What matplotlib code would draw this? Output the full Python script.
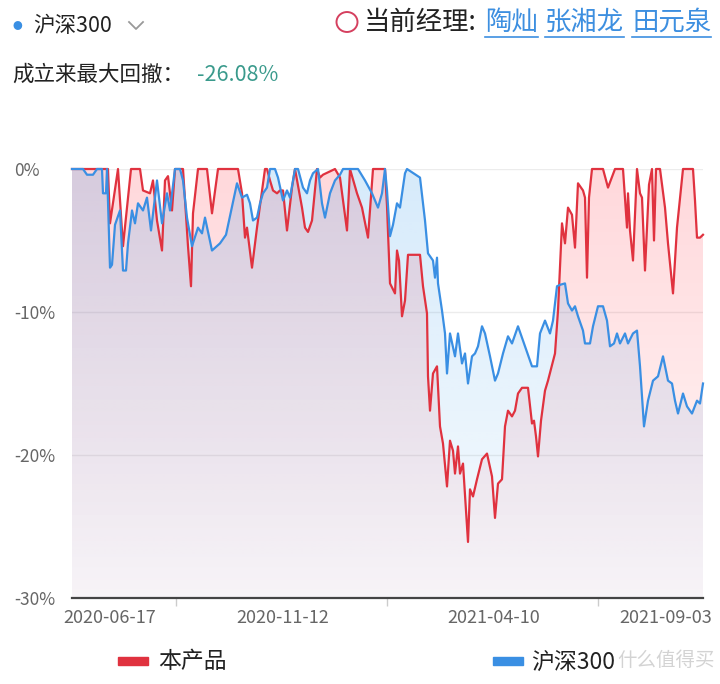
import matplotlib
matplotlib.use("Agg")
import matplotlib.pyplot as plt
import numpy as np
from matplotlib.patches import Polygon, Rectangle
from matplotlib.lines import Line2D

plt.rcParams["font.family"] = ["Noto Sans CJK SC", "DejaVu Sans"]

# ── Data: drawdown (%) at sample index (trading-day position) ────────────
fund_idx = [0, 36, 38, 46, 51, 59, 68, 71, 78, 81, 85, 90, 93, 96, 100, 103,
            111, 116, 119, 121, 126, 135, 140, 146, 153, 166, 170, 173, 175,
            180, 185, 193, 195, 198, 201, 205, 208, 211, 215, 220, 223, 230,
            233, 236, 240, 245, 248, 251, 263, 268, 275, 278, 285, 290, 296,
            301, 313, 315, 318, 323, 325, 327, 330, 333, 336, 348, 351, 355,
            356, 358, 361, 365, 368, 371, 375, 378, 381, 383, 386, 388, 391,
            396, 398, 401, 405, 410, 415, 420, 423, 426, 430, 433, 436, 440,
            443, 446, 450, 456, 460, 462, 464, 466, 469, 473, 476, 480, 483,
            486, 490, 493, 496, 500, 503, 506, 511, 513, 515, 517, 520, 531,
            536, 543, 551, 555, 556, 558, 561, 565, 568, 570, 573, 577, 580,
            582, 584, 588, 593, 596, 601, 605, 611, 621, 623, 625, 628, 631]
fund_dd = [0, 0, -3.8, 0, -5.4, 0, 0, -1.5, -1.7, -0.8, -3.6, -5.7, -0.8,
           -0.5, -2.9, 0, 0, -5.4, -8.2, -3.1, 0, 0, -3.1, 0, 0, 0, -1.7,
           -4.8, -4.1, -6.9, -4.1, 0, 0, -0.8, -1.5, -1.7, -1.5, -1.5, -4.3,
           -1.3, 0, -2.7, -4.1, -4.4, -3.6, 0, -0.6, -0.4, 0, -0.6, -4.3, 0,
           -1.7, -2.7, -4.8, 0, 0, -2.6, -8.0, -8.7, -5.7, -6.4, -10.3, -9.2,
           -6.0, -6.0, -8.2, -10.1, -14.5, -16.9, -14.3, -13.8, -18.0, -19.2,
           -22.2, -19.0, -19.7, -21.3, -19.4, -21.3, -20.6, -26.08, -22.4,
           -22.9, -21.7, -20.3, -19.9, -21.5, -24.4, -22.0, -21.7, -18.0,
           -16.9, -17.3, -16.9, -15.7, -15.3, -15.3, -17.8, -17.6, -18.7,
           -20.1, -17.6, -15.5, -14.8, -13.7, -12.9, -9.9, -3.8, -5.2, -2.7,
           -3.2, -5.5, -1.0, -1.5, -2.0, -7.6, -2.0, 0, 0, -1.3, 0, 0, -4.1,
           -1.7, -4.3, -6.4, 0, -1.7, -2.0, -7.1, -1.1, 0, -5.0, 0, 0, -2.7,
           -5.2, -8.7, -4.1, 0, 0, -2.2, -4.8, -4.8, -4.6]

hs300_idx = [0, 11, 15, 21, 25, 30, 31, 34, 35, 38, 40, 43, 48, 51, 54, 56,
             60, 63, 66, 71, 75, 79, 85, 90, 95, 98, 103, 108, 111, 115, 120,
             126, 130, 133, 140, 148, 154, 165, 170, 175, 178, 181, 185, 188,
             191, 195, 198, 203, 206, 211, 215, 218, 223, 226, 231, 235, 238,
             241, 246, 250, 253, 258, 263, 268, 271, 283, 286, 293, 300, 306,
             310, 313, 315, 318, 321, 325, 328, 333, 335, 348, 353, 356, 361,
             363, 365, 366, 370, 373, 375, 378, 383, 386, 390, 393, 396, 400,
             403, 406, 410, 413, 418, 423, 426, 431, 436, 440, 446, 453, 460,
             465, 468, 473, 478, 481, 485, 488, 493, 496, 500, 503, 506, 511,
             513, 518, 521, 526, 531, 535, 538, 542, 545, 548, 553, 556, 561,
             565, 568, 572, 576, 581, 586, 591, 596, 600, 603, 606, 611, 615,
             620, 625, 628, 631]
hs300_dd = [0, 0, -0.4, -0.4, 0, 0, -1.7, -1.7, 0, -6.9, -6.7, -3.9, -2.9,
            -7.1, -7.1, -5.2, -2.9, -3.8, -2.4, -2.9, -2.0, -4.3, -0.8, -3.8,
            -1.7, -2.9, 0, 0, -0.8, -3.4, -5.4, -4.1, -4.5, -3.4, -5.7, -5.2,
            -4.6, -1.0, -2.0, -1.8, -2.4, -3.6, -3.4, -2.4, -1.7, -1.3, 0, 0,
            -0.6, -2.2, -1.5, -2.0, 0, 0, -1.3, -1.7, -0.8, -0.3, 0, -2.4,
            -3.4, -1.7, -0.8, -0.4, 0, 0, 0, -0.8, -1.7, -2.7, -1.7, 0, -1.5,
            -4.7, -3.9, -2.4, -2.7, -0.3, 0, -0.6, -3.6, -5.9, -6.4, -7.6,
            -6.2, -8.0, -9.9, -11.5, -14.3, -11.5, -13.1, -11.5, -13.6, -12.9,
            -15.0, -13.1, -12.9, -12.4, -11.0, -11.5, -13.1, -14.8, -14.3,
            -12.9, -11.7, -12.2, -11.0, -12.4, -13.8, -13.8, -11.5, -10.6,
            -11.5, -10.6, -8.2, -8.1, -8.0, -9.4, -9.9, -9.6, -10.3, -11.3,
            -12.2, -12.2, -11.0, -9.6, -9.6, -10.6, -12.4, -12.2, -11.5,
            -12.2, -11.5, -12.2, -11.5, -11.3, -13.8, -18.0, -16.2, -14.8,
            -14.5, -13.1, -14.8, -15.0, -16.2, -17.1, -15.7, -16.6, -17.1,
            -16.2, -16.4, -15.0]

date_labels = ["2020-06-17", "2020-11-12", "2021-04-10", "2021-09-03"]
label_pos = [38, 211, 422, 594]
tick_pos = [104, 315, 526]
y_ticks = [0, -10, -20, -30]
max_dd = -26.08
managers = ["陶灿", "张湘龙", "田元泉"]

RED = "#e0323f"
BLUE = "#3a8fe3"
W, H = 720, 684


def fx(x):
    return x / W


def fy(y):
    return 1 - y / H


def gradient_area(ax, x, y, rgb, a_top, a_bot, z):
    verts = np.column_stack([x, y])
    verts = np.vstack([verts, [[x[-1], -30], [x[0], -30]]])
    patch = Polygon(verts, closed=True, facecolor="none", edgecolor="none")
    ax.add_patch(patch)
    grad = np.zeros((256, 1, 4))
    grad[..., :3] = rgb
    grad[..., 3] = np.linspace(a_bot, a_top, 256)[:, None]
    im = ax.imshow(grad, aspect="auto", origin="lower", zorder=z,
                   extent=[x[0], x[-1], -30, 0], interpolation="bilinear")
    im.set_clip_path(patch)


fig = plt.figure(figsize=(7.2, 6.84), dpi=100)
ax = fig.add_axes([fx(72), fy(598), (703 - 72) / W, (598 - 169) / H])

# red area first, blue drawn over it -> lavender where they overlap
gradient_area(ax, fund_idx, fund_dd, (1.0, 0.05, 0.12), 0.16, 0.03, 1)
gradient_area(ax, hs300_idx, hs300_dd, (0.2, 0.6, 0.92), 0.2, 0.04, 2)

ax.plot(fund_idx, fund_dd, color=RED, lw=1.6, zorder=4, clip_on=False,
        solid_joinstyle="round")
ax.plot(hs300_idx, hs300_dd, color=BLUE, lw=1.6, zorder=5, clip_on=False,
        solid_joinstyle="round")

ax.set_xlim(0, 631)
ax.set_ylim(-30, 0)
ax.set_aspect("auto")

for v in y_ticks[:-1]:
    ax.axhline(v, color="#ececec", lw=1, zorder=0)

ax.set_yticks(y_ticks)
ax.set_yticklabels([f"{v}%" for v in y_ticks], color="#666666", fontsize=12.5)
ax.tick_params(axis="y", length=0, pad=41.8)
for lab in ax.get_yticklabels():
    lab.set_horizontalalignment("left")

ax.set_xticks(tick_pos)
ax.set_xticklabels([])
ax.set_xticks(label_pos, minor=True)
ax.set_xticklabels(date_labels, minor=True, color="#666666", fontsize=13)
ax.tick_params(axis="x", which="major", length=6, color="#cccccc", width=1)
ax.tick_params(axis="x", which="minor", length=0, pad=8)

for s in ["left", "right", "top"]:
    ax.spines[s].set_visible(False)
ax.spines["bottom"].set_color("#444444")
ax.spines["bottom"].set_linewidth(1.6)
ax.spines["bottom"].set_zorder(6)

# ── Header ───────────────────────────────────────────────────────────────
fig.text(fx(17), fy(26), "●", color=BLUE, fontsize=7, ha="center", va="center")
fig.text(fx(33), fy(26), "沪深300", fontsize=15.5, color="#222222", va="center")
fig.add_artist(Line2D([fx(129), fx(136), fx(143)], [fy(22), fy(29), fy(22)],
                      color="#999999", lw=1.3))

fig.add_artist(plt.Circle((fx(347), fy(22)), 10.5 / W, transform=fig.transFigure,
                          facecolor="none", edgecolor="#d5405f", lw=1.4))
fig.text(fx(364), fy(22), "当前经理:", fontsize=19, color="#222222", va="center")

renderer = fig.canvas.get_renderer()
name_x = [485, 545, 632]
for nx, name in zip(name_x, managers):
    t = fig.text(fx(nx), fy(22), name, fontsize=19, color="#3d8fe0", va="center")
    bb = t.get_window_extent(renderer)
    fig.add_artist(Line2D([fx(bb.x0), fx(bb.x1)], [fy(37), fy(37)],
                          color="#3d8fe0", lw=1.2))

fig.text(fx(12), fy(75), "成立来最大回撤：", fontsize=15.5, color="#222222",
         va="center")
fig.text(fx(197), fy(75), f"{max_dd:.2f}%", fontsize=15.5, color="#3a9a8c",
         va="center")

# ── Legend ───────────────────────────────────────────────────────────────
fig.add_artist(Rectangle((fx(118), fy(665)), 30 / W, 8 / H, color=RED,
                         transform=fig.transFigure))
fig.text(fx(158), fy(662), "本产品", fontsize=16.5, color="#222222", va="center")
fig.add_artist(Rectangle((fx(493), fy(665)), 30 / W, 8 / H, color=BLUE,
                         transform=fig.transFigure))
fig.text(fx(531), fy(662), "沪深300", fontsize=16.5, color="#222222", va="center")
fig.text(fx(617), fy(660), "什么值得买", fontsize=14, color="#cfcfcf",
         va="center", alpha=0.9)

fig.savefig("out.png", dpi=100)
